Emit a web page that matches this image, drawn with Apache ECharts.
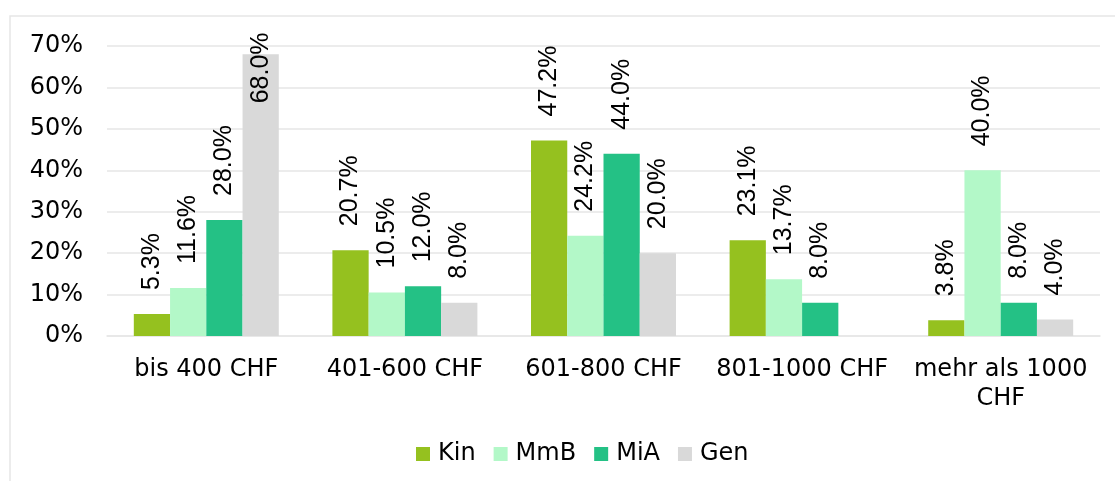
<!DOCTYPE html>
<html>
<head>
<meta charset="utf-8">
<script src="https://cdn.jsdelivr.net/npm/echarts@6/dist/echarts.min.js"></script>
<style>
  html, body { margin: 0; padding: 0; background: #fff; }
  #chart { width: 1115px; height: 481px; }
</style>
</head>
<body>
<div id="chart"></div>
<script>
// categories and values (percent)
var categories = ['bis 400 CHF', '401-600 CHF', '601-800 CHF', '801-1000 CHF', 'mehr als 1000\nCHF']
var kin = [5.3, 20.7, 47.2, 23.1, 3.8]
var mmb = [11.6, 10.5, 24.2, 13.7, 40.0]
var mia = [28.0, 12.0, 44.0, 8.0, 8.0]
var gen = [68.0, 8.0, 20.0, null, 4.0]
var yTicks = [0, 10, 20, 30, 40, 50, 60, 70]

var seriesNames = ['Kin', 'MmB', 'MiA', 'Gen']
var colors = ['#95C11F', '#B3F8C8', '#24C185', '#D9D9D9']

var chart = echarts.init(document.getElementById('chart'))

function barLabel() {
  return {
    show: true,
    position: 'top',
    distance: 24,
    rotate: 90,
    align: 'left',
    verticalAlign: 'middle',
    color: '#000',
    fontFamily: 'Liberation Sans',
    fontSize: 25,
    formatter: function (p) { return p.value == null ? '' : p.value.toFixed(1) + '%' }
  }
}

// the 68% label does not fit above its bar, it gets pushed down into it
var genData = gen.map(function (v) {
  if (v != null && v > 60) {
    return { value: v, label: { position: ['50%', 49] } }
  }
  return v
})

var allData = [kin, mmb, mia, genData]

var series = seriesNames.map(function (name, i) {
  return {
    name: name,
    type: 'bar',
    data: allData[i],
    barGap: 0,
    barCategoryGap: '27%',
    itemStyle: { color: colors[i] },
    label: barLabel()
  }
})

var option = {
  animation: false,
  textStyle: { fontFamily: 'DejaVu Sans' },
  graphic: [{
    type: 'rect',
    shape: { x: 10, y: 16, width: 1200, height: 600 },
    style: { fill: 'none', stroke: '#E6E6E6', lineWidth: 1.5 },
    silent: true
  }],
  legend: {
    left: 411,
    top: 437,
    itemWidth: 14,
    itemHeight: 14,
    itemGap: 18,
    textStyle: { fontSize: 24, color: '#000', fontFamily: 'DejaVu Sans', padding: [0, 0, 0, 3] },
    data: seriesNames.map(function (n) { return { name: n, icon: 'rect' } })
  },
  grid: { left: 107, right: 15, top: 46, bottom: 145 },
  xAxis: {
    type: 'category',
    data: categories,
    axisLine: { lineStyle: { color: '#E6E6E6', width: 1.5 } },
    axisTick: { show: false },
    axisLabel: {
      color: '#000',
      fontSize: 24,
      fontFamily: 'DejaVu Sans',
      margin: 19,
      lineHeight: 29,
      interval: 0
    }
  },
  yAxis: {
    type: 'value',
    min: yTicks[0],
    max: yTicks[yTicks.length - 1],
    interval: 10,
    axisLine: { show: false },
    axisTick: { show: false },
    splitLine: { lineStyle: { color: '#E6E6E6', width: 1.5 } },
    axisLabel: {
      color: '#000',
      fontSize: 24,
      fontFamily: 'DejaVu Sans',
      margin: 24,
      formatter: '{value}%'
    }
  },
  series: series
}

chart.setOption(option)
</script>
</body>
</html>
